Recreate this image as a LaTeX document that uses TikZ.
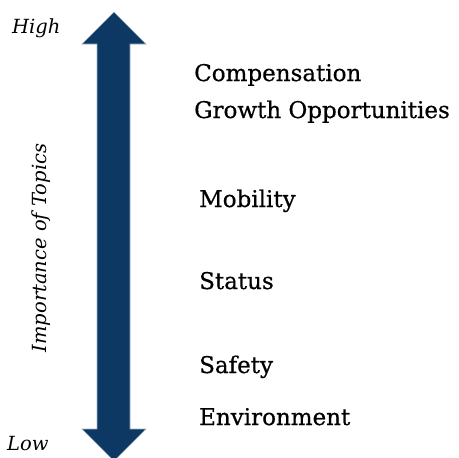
\documentclass[tikz,border=0pt]{standalone}
\usepackage{fontspec}
\setmainfont{DejaVu Serif}
\newfontfamily\topicfont{DejaVu Serif}[FakeBold=0.6]
\usetikzlibrary{shapes,arrows,calc}
\definecolor{navy}{RGB}{14,56,100}
\definecolor{rim}{RGB}{160,180,204}
\tikzstyle{topic} = [anchor=base west, inner sep=0pt, font=\topicfont\fontsize{23}{27}\selectfont]
\tikzstyle{level} = [inner sep=0pt, font=\fontsize{19.5}{23}\selectfont\itshape]

\begin{document}
\begin{tikzpicture}[x=1pt, y=-1pt]
        \useasboundingbox (0,0) rectangle (459,458);
        % the double headed scale arrow
        \filldraw[fill=navy, draw=rim, line width=0.6pt]
            (114,12) -- (146,44) -- (130,44) -- (130,429) -- (146,429)
            -- (114,461) -- (82,429) -- (97,429) -- (97,44) -- (82,44) -- cycle;
        \node[level, anchor=base west] (high) at (12,33) {High};
        \node[level, anchor=base west] (low) at (7,450) {Low};
        \node[level, anchor=base, rotate=90] (axis) at (46,248) {Importance of Topics};
        \node[topic] (comp) at (194,81) {Compensation};
        \node[topic] (growth) at (194,118) {Growth Opportunities};
        \node[topic] (mobility) at (199,207) {Mobility};
        \node[topic] (status) at (199,289) {Status};
        \node[topic] (safety) at (199,373) {Safety};
        \node[topic] (env) at (199,425) {Environment};
    \end{tikzpicture}
\end{document}
